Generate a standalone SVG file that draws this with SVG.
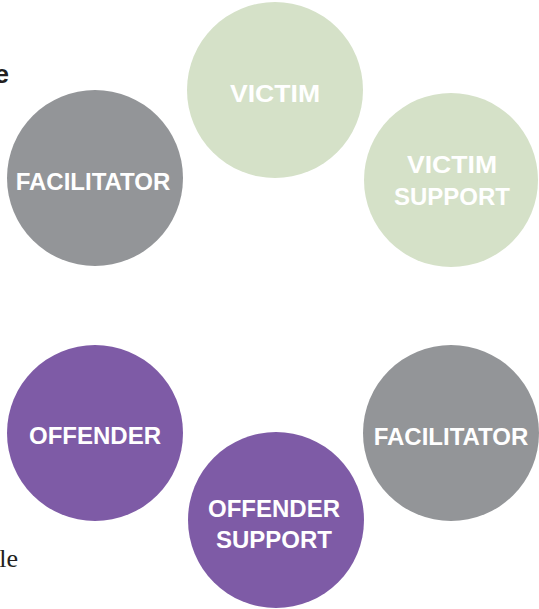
<svg xmlns="http://www.w3.org/2000/svg" width="539" height="609" viewBox="0 0 539 609">
<style>
.green{fill:#d5e1c8}
.gray{fill:#939598}
.purple{fill:#7e5ba6}
.lbl{font-family:"Liberation Sans",Arial,sans-serif;font-weight:bold;font-size:24px;fill:#ffffff;text-anchor:middle}
.side{font-size:26px;fill:#231f20}
</style>
<rect width="539" height="609" fill="#ffffff"/>
<text class="side" x="9" y="83" text-anchor="end" font-family="Liberation Sans, Arial, sans-serif" font-weight="bold">e</text>
<text class="side" x="18" y="567" text-anchor="end" font-family="Liberation Serif, Times New Roman, serif">le</text>
<g id="connectors"></g>
<g id="victim">
<circle class="green" cx="275" cy="90" r="88"/>
<text class="lbl" x="275" y="102" textLength="90" lengthAdjust="spacingAndGlyphs">VICTIM</text>
</g>
<g id="victim-support">
<circle class="green" cx="451" cy="180" r="87"/>
<text class="lbl" x="452" y="173" textLength="90" lengthAdjust="spacingAndGlyphs">VICTIM</text>
<text class="lbl" x="452" y="205">SUPPORT</text>
</g>
<g id="facilitator-top">
<circle class="gray" cx="95" cy="178" r="88"/>
<text class="lbl" x="93" y="190">FACILITATOR</text>
</g>
<g id="offender">
<circle class="purple" cx="95" cy="433" r="88"/>
<text class="lbl" x="95" y="444">OFFENDER</text>
</g>
<g id="facilitator-bottom">
<circle class="gray" cx="451" cy="433" r="88"/>
<text class="lbl" x="451" y="445">FACILITATOR</text>
</g>
<g id="offender-support">
<circle class="purple" cx="276" cy="520" r="88"/>
<text class="lbl" x="274" y="517">OFFENDER</text>
<text class="lbl" x="274" y="548">SUPPORT</text>
</g>
</svg>
